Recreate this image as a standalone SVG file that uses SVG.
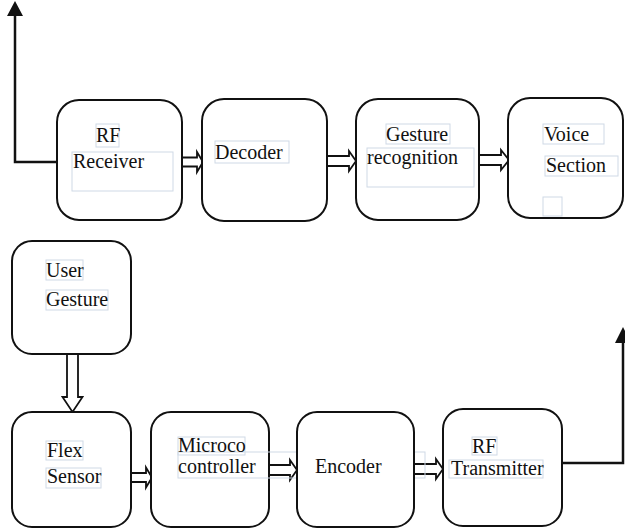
<svg xmlns="http://www.w3.org/2000/svg" width="625" height="532" viewBox="0 0 625 532">
  <defs>
    <style>
      .box { fill: #fff; stroke: #111; stroke-width: 2; }
      .frame { fill: none; stroke: #cfd9e6; stroke-width: 1; }
      text { font-size: 20px; fill: #111; }
      .block { fill: #fff; stroke: #111; stroke-width: 1.8; stroke-linejoin: miter; }
      .wire { fill: none; stroke: #111; stroke-width: 2.5; }
      .head { fill: #111; stroke: none; }
    </style>
  </defs>
  <rect width="625" height="532" fill="#fff"/>

  <!-- connectors -->
  <g id="connectors">
    <!-- antenna line out of the receiver -->
    <polyline class="wire" points="57,162 15,162 15,14"/>
    <polygon class="head" points="15,1 7,16 23,16"/>
    <!-- antenna line out of the transmitter -->
    <polyline class="wire" points="562,463 623,463 623,341"/>
    <polygon class="head" points="623,327 615,343 631,343"/>
    <!-- hollow block arrows -->
    <path class="block" d="M182,157.5 H197 V152 L203,162 L197,172 V166.5 H182"/>
    <path class="block" d="M327,156 H349 V151 L356,161 L349,171 V166 H327"/>
    <path class="block" d="M479,155 H501 V150 L509,160 L501,170 V165 H479"/>
    <path class="block" d="M67,354 V397 H62.5 L72.5,412 L82.5,397 H78 V354"/>
    <path class="block" d="M131,473 H146 V467.5 L152,477.5 L146,487.5 V482 H131"/>
    <path class="block" d="M269,465 H290 V460 L297,470 L290,480 V475 H269"/>
    <path class="block" d="M414,464 H436 V459 L443,469 L436,479 V474 H414"/>
  </g>

  <g font-family="Liberation Serif, DejaVu Serif, serif">
  <!-- top row -->
  <g id="rf-receiver">
    <rect class="box" x="57" y="100" width="125" height="120" rx="22"/>
    <rect class="frame" x="96" y="124" width="23" height="23"/>
    <rect class="frame" x="72" y="152" width="101" height="39"/>
    <text x="96" y="142">RF</text>
    <text x="73" y="168">Receiver</text>
  </g>
  <g id="decoder">
    <rect class="box" x="202" y="99" width="125" height="122" rx="22"/>
    <rect class="frame" x="215" y="141" width="74" height="22"/>
    <text x="215" y="159">Decoder</text>
  </g>
  <g id="gesture-recognition">
    <rect class="box" x="356" y="99" width="123" height="121" rx="22"/>
    <rect class="frame" x="386" y="124" width="64" height="20"/>
    <rect class="frame" x="367" y="148" width="107" height="39"/>
    <text x="386" y="141">Gesture</text>
    <text x="367" y="164">recognition</text>
  </g>
  <g id="voice-section">
    <rect class="box" x="508" y="98" width="115" height="120" rx="22"/>
    <rect class="frame" x="543" y="124" width="61" height="20"/>
    <rect class="frame" x="545" y="156" width="73" height="20"/>
    <rect class="frame" x="543" y="197" width="19" height="19"/>
    <text x="544" y="141">Voice</text>
    <text x="546" y="172">Section</text>
  </g>

  <!-- input side -->
  <g id="user-gesture">
    <rect class="box" x="12" y="241" width="119" height="113" rx="20"/>
    <rect class="frame" x="46" y="260" width="37" height="20"/>
    <rect class="frame" x="46" y="290" width="62" height="20"/>
    <text x="46" y="277">User</text>
    <text x="46" y="306">Gesture</text>
  </g>

  <!-- bottom row -->
  <g id="flex-sensor">
    <rect class="box" x="12" y="412" width="119" height="115" rx="20"/>
    <rect class="frame" x="46" y="441" width="37" height="19"/>
    <rect class="frame" x="46" y="468" width="55" height="20"/>
    <text x="47" y="457">Flex</text>
    <text x="47" y="483">Sensor</text>
  </g>
  <g id="microcontroller">
    <rect class="box" x="151" y="412" width="118" height="115" rx="20"/>
    <rect class="frame" x="178" y="437" width="67" height="18"/>
    <rect class="frame" x="178" y="452" width="247" height="26"/>
    <text x="178" y="452">Microco</text>
    <text x="178" y="473">controller</text>
  </g>
  <g id="encoder">
    <rect class="box" x="297" y="412" width="117" height="115" rx="20"/>
    <text x="315" y="473">Encoder</text>
  </g>
  <g id="rf-transmitter">
    <rect class="box" x="443" y="409" width="119" height="117" rx="20"/>
    <rect class="frame" x="472" y="437" width="25" height="18"/>
    <rect class="frame" x="449" y="460" width="94" height="18"/>
    <text x="472" y="453">RF</text>
    <text x="451" y="475">Transmitter</text>
  </g>
  </g>
</svg>
